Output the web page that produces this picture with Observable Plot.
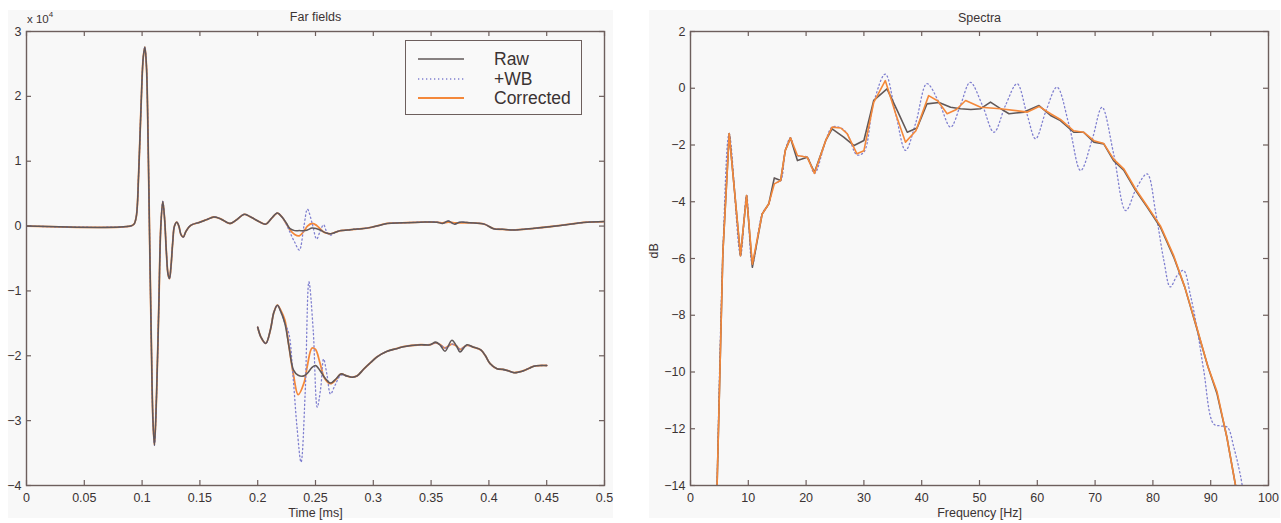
<!DOCTYPE html>
<html><head><meta charset="utf-8">
<script src="https://cdn.jsdelivr.net/npm/d3@7"></script>
<script src="https://cdn.jsdelivr.net/npm/@observablehq/plot@0.6"></script>
<style>
body{margin:0;background:#fff;}
#fig{position:relative;width:1281px;height:523px;overflow:hidden;background:#fff;font-family:"Liberation Sans",Arial,sans-serif;}
.panel{position:absolute;background:#f8f8f8;}
.plotwrap{position:absolute;top:0;}
#exp{position:absolute;left:27px;top:11px;font-size:11.5px;color:#3b3333;}
#exp sup{font-size:8px;position:relative;top:-1px;}
#legend{position:absolute;left:405px;top:40px;width:175px;height:73px;border:1.4px solid #6d5f5d;background:#f9f9f9;}
.lrow{position:absolute;left:0;height:20px;width:175px;}
.lrow svg{position:absolute;left:11px;top:0;}
.lrow span{position:absolute;left:88px;top:0;line-height:20px;font-size:17.5px;color:#3b3333;}
</style></head><body>
<div id="fig">
  <div class="panel" style="left:8px;top:10px;width:605px;height:508px"></div>
  <div class="panel" style="left:649px;top:10px;width:631px;height:508px"></div>
  <div id="left" class="plotwrap" style="left:0"></div>
  <div id="right" class="plotwrap" style="left:640px"></div>
  <div id="exp">x 10<sup>4</sup></div>
  <div id="legend"></div>
</div>
<script>
// ---------- data: Far fields (values in units of 1e4) ----------
const mainT = [0,0.09,0.093,0.095,0.097,0.099,0.101,0.1024,0.1038,0.1052,0.1066,0.108,0.1094,0.1107,0.1125,0.1145,0.1162,0.1179,0.1195,0.121,0.1225,0.1237,0.125,0.1265,0.128,0.13,0.1318,0.1336,0.1356,0.138,0.142,0.15,0.156,0.162,0.168,0.176,0.182,0.188,0.193,0.197,0.202,0.207,0.212,0.217,0.221,0.225,0.228,0.232,0.236,0.24,0.243,0.247,0.251,0.254,0.257,0.26,0.263,0.268,0.272,0.278,0.283,0.29,0.298,0.305,0.312,0.325,0.341,0.355,0.36,0.365,0.37,0.375,0.384,0.396,0.404,0.412,0.419,0.43,0.442,0.462,0.475,0.485,0.5];
const mainRaw = [0,0,0.03,0.15,0.8,1.8,2.6,2.76,2.45,1.3,-0.3,-1.8,-3.0,-3.38,-2.6,-1.2,0.0,0.38,0.1,-0.4,-0.75,-0.81,-0.62,-0.25,0.0,0.06,0.0,-0.13,-0.17,-0.08,0.01,0.06,0.1,0.14,0.11,0.04,0.1,0.18,0.15,0.11,0.06,0.03,0.12,0.2,0.14,0.04,-0.04,-0.07,-0.07,-0.07,-0.06,-0.03,-0.04,-0.06,-0.09,-0.11,-0.12,-0.09,-0.07,-0.06,-0.05,-0.04,-0.02,0.01,0.04,0.05,0.06,0.06,0.04,0.08,0.03,0.06,0.05,0.03,-0.04,-0.05,-0.06,-0.05,-0.03,0.01,0.04,0.06,0.07];
const mainCorr = [0,0,0.03,0.15,0.8,1.8,2.6,2.76,2.45,1.3,-0.3,-1.8,-3.0,-3.38,-2.6,-1.2,0.0,0.38,0.1,-0.4,-0.75,-0.81,-0.62,-0.25,0.0,0.06,0.0,-0.13,-0.17,-0.08,0.01,0.06,0.1,0.14,0.11,0.04,0.1,0.18,0.15,0.11,0.06,0.03,0.12,0.2,0.14,0.03,-0.06,-0.13,-0.15,-0.08,0.0,0.04,0.01,-0.04,-0.09,-0.11,-0.12,-0.09,-0.07,-0.06,-0.05,-0.04,-0.02,0.01,0.04,0.05,0.06,0.06,0.05,0.06,0.05,0.05,0.05,0.03,-0.04,-0.05,-0.06,-0.05,-0.03,0.01,0.04,0.06,0.07];
const mainWB = [0,0,0.03,0.15,0.8,1.8,2.6,2.76,2.45,1.3,-0.3,-1.8,-3.0,-3.38,-2.6,-1.2,0.0,0.38,0.1,-0.4,-0.75,-0.81,-0.62,-0.25,0.0,0.06,0.0,-0.13,-0.17,-0.08,0.01,0.06,0.1,0.14,0.11,0.04,0.1,0.18,0.15,0.11,0.06,0.03,0.12,0.2,0.14,0.02,-0.1,-0.25,-0.37,0.0,0.26,0.05,-0.2,-0.08,0.02,-0.1,-0.14,-0.09,-0.07,-0.06,-0.05,-0.04,-0.02,0.01,0.04,0.05,0.06,0.06,0.04,0.08,0.03,0.06,0.05,0.03,-0.04,-0.05,-0.06,-0.05,-0.03,0.01,0.04,0.06,0.07];

// zoomed inset (same time axis, shifted/magnified copy)
const insetT = [0.2,0.203,0.207,0.211,0.214,0.217,0.22,0.2235,0.227,0.231,0.235,0.24,0.243,0.247,0.25,0.254,0.258,0.263,0.268,0.272,0.277,0.282,0.286,0.292,0.298,0.303,0.312,0.32,0.326,0.341,0.349,0.354,0.358,0.362,0.368,0.372,0.375,0.381,0.387,0.393,0.397,0.401,0.407,0.412,0.4165,0.4216,0.426,0.43,0.435,0.439,0.445,0.45];
const insetRaw = [-1.56,-1.72,-1.81,-1.6,-1.33,-1.22,-1.32,-1.5,-1.85,-2.22,-2.3,-2.31,-2.27,-2.18,-2.15,-2.23,-2.34,-2.42,-2.35,-2.28,-2.31,-2.33,-2.31,-2.2,-2.1,-2.02,-1.93,-1.89,-1.86,-1.83,-1.83,-1.79,-1.84,-1.93,-1.76,-1.85,-1.94,-1.83,-1.87,-1.91,-2.0,-2.12,-2.2,-2.21,-2.23,-2.26,-2.25,-2.23,-2.19,-2.16,-2.15,-2.15];
const insetCorr = [-1.56,-1.72,-1.81,-1.6,-1.33,-1.22,-1.3,-1.45,-1.85,-2.3,-2.6,-2.42,-2.15,-1.88,-1.9,-2.12,-2.35,-2.43,-2.36,-2.28,-2.31,-2.33,-2.31,-2.2,-2.1,-2.02,-1.93,-1.89,-1.86,-1.83,-1.83,-1.8,-1.83,-1.88,-1.82,-1.85,-1.9,-1.84,-1.87,-1.91,-2.0,-2.12,-2.2,-2.21,-2.23,-2.26,-2.25,-2.23,-2.19,-2.16,-2.15,-2.15];
const insetWBT = [0.2,0.203,0.207,0.211,0.214,0.217,0.22,0.2235,0.227,0.2305,0.234,0.2375,0.241,0.2443,0.248,0.2515,0.2545,0.257,0.26,0.263,0.267,0.272,0.277,0.282,0.286,0.292,0.298,0.303,0.312,0.32,0.326,0.341,0.349,0.354,0.358,0.362,0.368,0.372,0.375,0.381,0.387,0.393,0.397,0.401,0.407,0.412,0.4165,0.4216,0.426,0.43,0.435,0.439,0.445,0.45];
const insetWB = [-1.56,-1.72,-1.81,-1.6,-1.33,-1.22,-1.32,-1.5,-1.66,-2.3,-3.1,-3.64,-2.6,-0.86,-1.6,-2.79,-2.5,-2.05,-2.3,-2.59,-2.45,-2.3,-2.31,-2.33,-2.31,-2.2,-2.1,-2.02,-1.93,-1.89,-1.86,-1.83,-1.83,-1.8,-1.83,-1.88,-1.82,-1.85,-1.9,-1.84,-1.87,-1.91,-2.0,-2.12,-2.2,-2.21,-2.23,-2.26,-2.25,-2.23,-2.19,-2.16,-2.15,-2.15];

// ---------- data: Spectra (dB) ----------
const rawF  = [4.6,5.6,6.7,8.65,9.7,10.7,12.4,13.55,14.5,15.6,16.4,17.3,18.5,20.2,21.45,23.4,24.5,26.5,28.3,30.0,31.7,34.0,35.8,37.5,39.2,40.9,43.0,45.0,46.7,48.5,50.2,51.9,53.5,55.1,57.7,60.3,62.3,64.0,66.3,68.0,69.8,71.5,73.2,75.0,77.0,79.0,81.3,83.6,85.5,87.7,89.5,91.1,92.8,94.3];
const rawDB = [-14,-5.8,-1.6,-5.9,-3.78,-6.31,-4.43,-4.07,-3.16,-3.25,-2.19,-1.75,-2.55,-2.43,-2.96,-1.84,-1.43,-1.72,-2.02,-1.84,-0.43,-0.02,-0.8,-1.55,-1.4,-0.55,-0.5,-0.67,-0.72,-0.75,-0.72,-0.49,-0.7,-0.9,-0.84,-0.61,-0.96,-1.14,-1.55,-1.55,-1.9,-1.96,-2.55,-2.9,-3.6,-4.19,-4.9,-5.95,-7.0,-8.54,-9.8,-10.77,-12.3,-14.0];
const corrF  = [4.6,5.6,6.7,8.65,9.7,10.7,12.4,13.55,14.5,15.6,16.4,17.3,18.5,20.2,21.45,23.4,24.5,26.0,27.1,28.8,30.0,31.7,33.7,35.5,37.2,39.0,41.2,42.8,44.4,46.0,47.6,50.2,53.6,58.3,60.3,62.3,64.0,66.3,68.0,69.8,71.5,73.2,75.0,77.0,79.0,81.3,83.6,85.5,87.7,89.5,91.1,92.8,94.3];
const corrDB = [-14,-5.8,-1.6,-5.9,-3.78,-6.2,-4.43,-4.07,-3.37,-3.25,-2.19,-1.75,-2.37,-2.43,-3.0,-1.84,-1.37,-1.4,-1.6,-2.31,-2.2,-0.5,0.27,-0.9,-1.9,-1.5,-0.26,-0.45,-0.9,-0.75,-0.43,-0.67,-0.72,-0.84,-0.64,-0.9,-1.1,-1.5,-1.55,-1.85,-1.95,-2.5,-2.85,-3.55,-4.15,-4.85,-5.9,-7.0,-8.5,-9.8,-10.7,-12.3,-14.0];
const wbF  = [4.6,5.6,6.7,8.65,9.7,10.7,12.4,13.55,14.5,15.6,16.4,17.3,18.5,20.2,21.45,23.4,24.5,26.0,27.1,28.8,30.0,31.7,33.7,35.5,37.2,39.0,40.9,43.0,45.0,46.7,48.4,50.5,52.5,54.5,56.5,58.2,59.7,61.5,63.4,65.5,67.5,69.5,71.2,73.2,75.3,77.2,79.0,80.5,81.9,83.0,84.2,85.3,86.5,87.7,88.8,90.5,91.7,92.9,94.0,95.2,95.6];
const wbDB = [-14,-5.8,-1.6,-5.9,-3.78,-6.2,-4.43,-4.07,-3.37,-3.25,-2.19,-1.75,-2.37,-2.43,-3.0,-1.84,-1.37,-1.4,-1.6,-2.35,-2.25,-0.5,0.5,-0.9,-2.19,-1.2,0.16,-0.5,-1.37,-0.6,0.21,-0.6,-1.55,-0.6,0.16,-0.9,-1.78,-0.8,0.04,-1.3,-2.9,-1.8,-0.67,-2.3,-4.31,-3.5,-3.02,-4.4,-6.07,-7.0,-6.6,-6.42,-7.3,-8.54,-9.95,-11.83,-11.9,-11.95,-12.65,-13.7,-14.2];

// ---------- ticks and labels ----------
const timeTicks = [0,0.05,0.1,0.15,0.2,0.25,0.3,0.35,0.4,0.45,0.5];
const timeTickLabels = ["0","0.05","0.1","0.15","0.2","0.25","0.3","0.35","0.4","0.45","0.5"];
const fieldTicks = [-4,-3,-2,-1,0,1,2,3];
const freqTicks = [0,10,20,30,40,50,60,70,80,90,100];
const dbTicks = [-14,-12,-10,-8,-6,-4,-2,0,2];
const seriesNames = ["Raw","+WB","Corrected"];

// ---------- styling ----------
const FONT = '"Liberation Sans", Arial, Helvetica, sans-serif';
const TEXT = "#3b3333";
const AXIS = "#6d5f5d";
const GRAY = "#615858";
const ORANGE = "#f4883a";
const BLUE = "#8080d0";
const DASH = "1.3,2.7";
const minus = d => d < 0 ? "\u2212" + Math.abs(d) : String(d);

const zipRows = (xs, cols) => xs.map((x, i) => {
  const r = {x};
  for (const k in cols) r[k] = cols[k][i];
  return r;
});
const mainRows = zipRows(mainT, {raw: mainRaw, corr: mainCorr, wb: mainWB});
const insetRows = zipRows(insetT, {raw: insetRaw, corr: insetCorr});
const insetWBRows = zipRows(insetWBT, {wb: insetWB});
const rawRows = zipRows(rawF, {y: rawDB});
const corrRows = zipRows(corrF, {y: corrDB});
const wbRows = zipRows(wbF, {y: wbDB});

function frameMarks(xt, yt, xfmt, yfmt, pw, ph) {
  return [
    Plot.frame({stroke: AXIS, strokeWidth: 1.4}),
    Plot.tickX(xt, {x: d => d, insetTop: ph - 5, stroke: AXIS, strokeWidth: 1.2}),
    Plot.tickX(xt, {x: d => d, insetBottom: ph - 5, stroke: AXIS, strokeWidth: 1.2}),
    Plot.tickY(yt, {y: d => d, insetRight: pw - 5, stroke: AXIS, strokeWidth: 1.2}),
    Plot.tickY(yt, {y: d => d, insetLeft: pw - 5, stroke: AXIS, strokeWidth: 1.2}),
    Plot.axisX(xt, {tickSize: 0, tickPadding: 8, tickFormat: xfmt, label: null, fontSize: 12.5, fill: TEXT}),
    Plot.axisY(yt, {tickSize: 0, tickPadding: 5, tickFormat: yfmt, label: null, fontSize: 12.5, fill: TEXT})
  ];
}

// ---------- left: Far fields ----------
const L = {w: 640, h: 523, mt: 31, mb: 38, ml: 26, mr: 36};
const leftPlot = Plot.plot({
  width: L.w, height: L.h, marginTop: L.mt, marginBottom: L.mb, marginLeft: L.ml, marginRight: L.mr,
  style: {background: "transparent", fontFamily: FONT, fontSize: "12.5px", color: TEXT},
  x: {domain: [0, 0.5]},
  y: {domain: [-4, 3]},
  marks: [
    Plot.line(mainRows, {x: "x", y: "corr", stroke: ORANGE, strokeWidth: 1.8, curve: "catmull-rom", clip: true}),
    Plot.line(mainRows, {x: "x", y: "wb", stroke: BLUE, strokeWidth: 1.3, strokeDasharray: DASH, curve: "catmull-rom", clip: true}),
    Plot.line(mainRows, {x: "x", y: "raw", stroke: GRAY, strokeWidth: 1.5, curve: "catmull-rom", clip: true}),
    Plot.line(insetRows, {x: "x", y: "corr", stroke: ORANGE, strokeWidth: 1.8, curve: "catmull-rom", clip: true}),
    Plot.line(insetWBRows, {x: "x", y: "wb", stroke: BLUE, strokeWidth: 1.3, strokeDasharray: DASH, curve: "catmull-rom", clip: true}),
    Plot.line(insetRows, {x: "x", y: "raw", stroke: GRAY, strokeWidth: 1.6, curve: "catmull-rom", clip: true}),
    ...frameMarks(timeTicks, fieldTicks, d => timeTickLabels[timeTicks.indexOf(d)], minus, L.w - L.ml - L.mr, L.h - L.mt - L.mb),
    Plot.text(["Far fields"], {text: d => d, frameAnchor: "top", dy: -15, lineAnchor: "middle", fontSize: 12.5, fill: TEXT}),
    Plot.text(["Time [ms]"], {text: d => d, frameAnchor: "bottom", dy: 27, lineAnchor: "middle", fontSize: 12.5, fill: TEXT})
  ]
});
document.getElementById("left").appendChild(leftPlot);

// ---------- right: Spectra ----------
const R = {w: 641, h: 523, mt: 31, mb: 38, ml: 50, mr: 13};
const rightPlot = Plot.plot({
  width: R.w, height: R.h, marginTop: R.mt, marginBottom: R.mb, marginLeft: R.ml, marginRight: R.mr,
  style: {background: "transparent", fontFamily: FONT, fontSize: "12.5px", color: TEXT},
  x: {domain: [0, 100]},
  y: {domain: [-14, 2]},
  marks: [
    Plot.line(wbRows, {x: "x", y: "y", stroke: BLUE, strokeWidth: 1.3, strokeDasharray: DASH, curve: "catmull-rom", clip: true}),
    Plot.line(rawRows, {x: "x", y: "y", stroke: GRAY, strokeWidth: 1.6, clip: true}),
    Plot.line(corrRows, {x: "x", y: "y", stroke: ORANGE, strokeWidth: 1.6, clip: true}),
    ...frameMarks(freqTicks, dbTicks, d => String(d), minus, R.w - R.ml - R.mr, R.h - R.mt - R.mb),
    Plot.text(["Spectra"], {text: d => d, frameAnchor: "top", dy: -14, lineAnchor: "middle", fontSize: 12.5, fill: TEXT}),
    Plot.text(["Frequency [Hz]"], {text: d => d, frameAnchor: "bottom", dy: 27, lineAnchor: "middle", fontSize: 12.5, fill: TEXT}),
    Plot.text(["dB"], {text: d => d, frameAnchor: "left", dx: -37, rotate: -90, fontSize: 12.5, fill: TEXT})
  ]
});
document.getElementById("right").appendChild(rightPlot);

// ---------- legend ----------
const legendStyles = [
  {stroke: GRAY, width: 1.6, dash: null},
  {stroke: BLUE, width: 1.3, dash: DASH},
  {stroke: ORANGE, width: 1.8, dash: null}
];
const legend = document.getElementById("legend");
seriesNames.forEach((name, i) => {
  const row = document.createElement("div");
  row.className = "lrow";
  row.style.top = (8 + i * 19.5) + "px";
  const s = legendStyles[i];
  row.innerHTML = `<svg width="48" height="20"><line x1="1" x2="47" y1="10" y2="10" stroke="${s.stroke}" stroke-width="${s.width}" ${s.dash ? `stroke-dasharray="${s.dash}"` : ""}/></svg><span>${name}</span>`;
  legend.appendChild(row);
});
</script>
</body></html>
